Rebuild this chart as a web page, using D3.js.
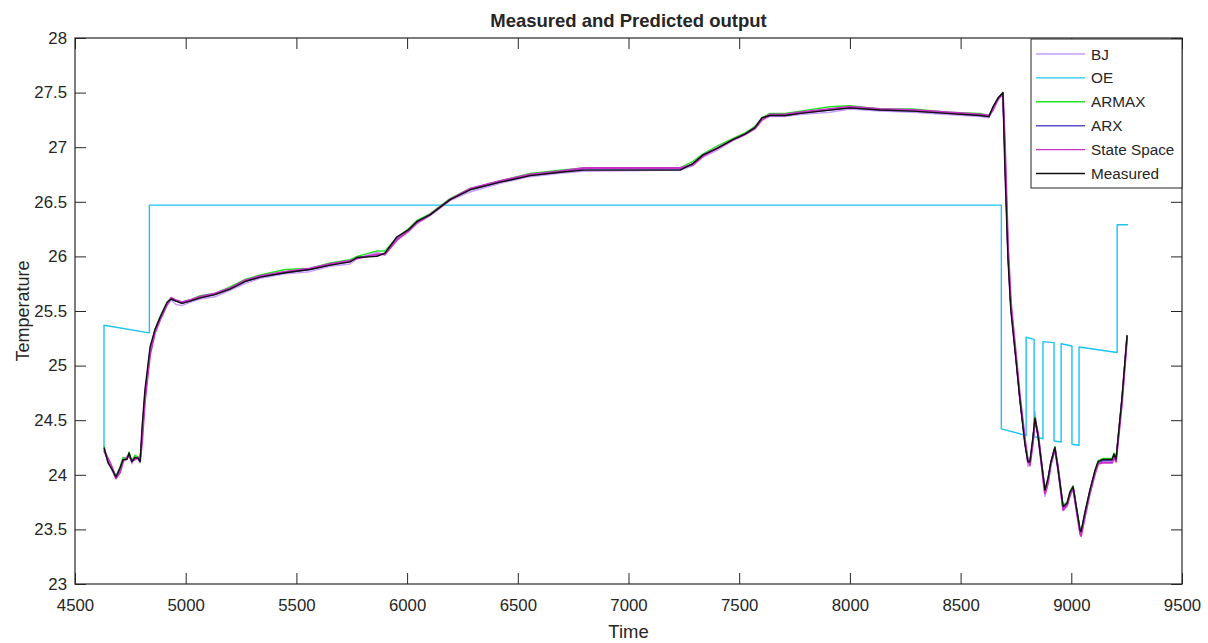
<!DOCTYPE html>
<html>
<head>
<meta charset="utf-8">
<script src="https://cdn.jsdelivr.net/npm/d3@7"></script>
<style>
  body { margin: 0; background: #fff; }
  svg text { font-family: "Liberation Sans", Arial, sans-serif; fill: #262626; }
</style>
</head>
<body>
<div id="chart"></div>
<script>
// sample times shared by measured and the four close-fitting models
var time = [4631,4649,4667,4685,4703,4717,4735,4744,4757,4771,4785,4794,4803,4816,4839,4861,4884,4916,4934,4956,
  4983,5019,5065,5132,5200,5268,5336,5449,5561,5652,5742,5774,5864,5900,5954,6004,6045,6103,6194,6284,
  6420,6555,6690,6799,7233,7291,7337,7400,7472,7526,7571,7603,7639,7707,7775,7910,8000,8136,8285,8439,
  8588,8628,8646,8669,8691,8700,8714,8727,8750,8768,8791,8804,8813,8827,8836,8850,8881,8895,8908,8926,
  8940,8963,8981,8994,9008,9040,9044,9062,9084,9107,9121,9143,9184,9193,9202,9229,9252];

var measured = [24.25,24.11,24.05,23.98,24.06,24.14,24.14,24.20,24.12,24.16,24.15,24.12,24.44,24.78,25.17,25.33,25.44,25.58,25.61,25.59,
  25.57,25.59,25.62,25.65,25.70,25.77,25.81,25.85,25.88,25.92,25.95,25.99,26.00,26.03,26.18,26.24,26.32,26.38,26.52,26.61,
  26.68,26.74,26.77,26.79,26.79,26.85,26.93,26.99,27.07,27.12,27.18,27.27,27.29,27.29,27.31,27.34,27.36,27.34,27.33,27.31,
  27.29,27.28,27.37,27.45,27.50,26.80,25.97,25.50,25.05,24.68,24.27,24.12,24.12,24.35,24.52,24.35,23.86,23.97,24.12,24.25,
  24.05,23.71,23.74,23.84,23.89,23.49,23.48,23.66,23.86,24.04,24.12,24.14,24.14,24.19,24.14,24.71,25.28];

var stateSpace = [24.22,24.15,24.07,23.97,24.02,24.12,24.16,24.17,24.13,24.14,24.16,24.13,24.30,24.68,25.10,25.30,25.42,25.56,25.62,25.60,
  25.58,25.60,25.63,25.66,25.71,25.78,25.82,25.86,25.89,25.93,25.96,25.98,26.02,26.02,26.15,26.23,26.31,26.38,26.52,26.62,
  26.69,26.75,26.78,26.81,26.81,26.84,26.92,26.99,27.07,27.12,27.17,27.25,27.30,27.30,27.32,27.35,27.37,27.35,27.34,27.32,
  27.30,27.29,27.34,27.44,27.49,27.05,26.10,25.58,25.10,24.72,24.32,24.13,24.09,24.30,24.50,24.38,23.83,23.93,24.10,24.24,
  24.07,23.68,23.72,23.82,23.88,23.46,23.44,23.62,23.83,24.01,24.10,24.11,24.11,24.16,24.12,24.66,25.26];

var arx = [24.24,24.12,24.06,23.98,24.05,24.13,24.15,24.19,24.12,24.15,24.15,24.12,24.38,24.74,25.14,25.32,25.43,25.57,25.61,25.59,
  25.57,25.59,25.62,25.65,25.70,25.77,25.81,25.85,25.88,25.92,25.95,25.99,26.01,26.03,26.17,26.24,26.32,26.38,26.52,26.61,
  26.68,26.74,26.77,26.80,26.80,26.85,26.93,26.99,27.07,27.12,27.18,27.26,27.29,27.29,27.31,27.34,27.36,27.34,27.33,27.31,
  27.29,27.28,27.36,27.45,27.50,26.90,26.02,25.53,25.07,24.69,24.29,24.12,24.11,24.33,24.51,24.36,23.85,23.96,24.11,24.25,
  24.06,23.70,23.73,23.83,23.89,23.48,23.47,23.65,23.85,24.03,24.11,24.13,24.13,24.18,24.14,24.69,25.27];

var armax = [24.26,24.13,24.06,23.99,24.07,24.16,24.15,24.21,24.13,24.18,24.16,24.13,24.36,24.72,25.13,25.33,25.45,25.58,25.62,25.60,
  25.58,25.60,25.64,25.66,25.72,25.79,25.83,25.88,25.89,25.94,25.97,26.00,26.05,26.05,26.17,26.25,26.33,26.39,26.53,26.62,
  26.69,26.76,26.79,26.81,26.81,26.87,26.94,27.01,27.08,27.13,27.19,27.27,27.31,27.31,27.33,27.37,27.38,27.35,27.35,27.32,
  27.31,27.29,27.36,27.45,27.50,26.95,26.05,25.55,25.08,24.70,24.30,24.14,24.12,24.33,24.53,24.37,23.87,23.97,24.12,24.26,
  24.07,23.72,23.75,23.85,23.90,23.50,23.47,23.66,23.86,24.04,24.13,24.15,24.15,24.20,24.15,24.70,25.27];

var bj = [24.23,24.14,24.04,23.96,24.03,24.12,24.17,24.18,24.10,24.16,24.14,24.11,24.33,24.70,25.11,25.30,25.41,25.55,25.60,25.56,
  25.55,25.58,25.61,25.63,25.69,25.75,25.80,25.84,25.86,25.91,25.93,25.98,26.04,26.01,26.16,26.22,26.30,26.37,26.51,26.59,
  26.67,26.73,26.76,26.78,26.79,26.83,26.91,26.97,27.06,27.11,27.17,27.25,27.28,27.28,27.30,27.32,27.35,27.33,27.32,27.30,
  27.28,27.27,27.35,27.43,27.49,26.98,26.08,25.56,25.09,24.71,24.31,24.08,24.08,24.30,24.58,24.33,23.80,23.92,24.09,24.22,
  24.03,23.67,23.71,23.80,23.87,23.46,23.45,23.63,23.83,24.01,24.10,24.12,24.12,24.17,24.13,24.67,25.25];

// OE model has its own step-shaped trace
var oeTime = [4631,4631,4836,4836,8684,8684,8796,8796,8832,8832,8872,8872,8922,8922,8954,8954,9003,9003,9035,9035,9207,9207,9256];
var oeTemp = [24.25,25.37,25.30,26.47,26.47,24.42,24.36,25.26,25.24,24.35,24.33,25.22,25.21,24.31,24.30,25.20,25.18,24.28,24.27,25.17,25.12,26.29,26.29];

var xTicks = [4500,5000,5500,6000,6500,7000,7500,8000,8500,9000,9500];
var yTicks = [23,23.5,24,24.5,25,25.5,26,26.5,27,27.5,28];

var seriesNames = ["BJ","OE","ARMAX","ARX","State Space","Measured"];
var seriesColors = ["#c99cff","#1cc3f4","#22e622","#5a4fc4","#c832c8","#111111"];
var seriesWidths = [1.4,1.4,1.4,1.4,2,1.4];

var margin = {top: 38, right: 26, bottom: 59, left: 75},
    width = 1208 - margin.left - margin.right,
    height = 643 - margin.top - margin.bottom;

var svg = d3.select("#chart")
    .append("svg")
    .attr("width", 1208)
    .attr("height", 643)
    .append("g")
    .attr("transform", "translate(" + margin.left + "," + margin.top + ")");

var x = d3.scaleLinear().domain([4500, 9500]).range([0, width]);
var y = d3.scaleLinear().domain([23, 28]).range([height, 0]);

svg.append("clipPath").attr("id", "clip")
    .append("rect").attr("width", width).attr("height", height);

// lines
var line = d3.line()
    .x(function (d) { return x(d[0]); })
    .y(function (d) { return y(d[1]); });

var traces = [
  d3.zip(time, bj),
  d3.zip(oeTime, oeTemp),
  d3.zip(time, armax),
  d3.zip(time, arx),
  d3.zip(time, stateSpace),
  d3.zip(time, measured)
];

var plot = svg.append("g").attr("clip-path", "url(#clip)");
traces.forEach(function (tr, i) {
  plot.append("path")
      .datum(tr)
      .attr("fill", "none")
      .attr("stroke", seriesColors[i])
      .attr("stroke-width", seriesWidths[i])
      .attr("stroke-linejoin", "round")
      .attr("d", line);
});

// axes, ticks inward on all four sides (box on)
var tickLen = 11;
function styleAxis(g) {
  g.select(".domain").remove();
  g.selectAll(".tick line").attr("stroke", "#262626");
  g.selectAll(".tick text").attr("font-size", "16.8px").attr("fill", "#262626")
      .attr("font-family", "'Liberation Sans', Arial, sans-serif");
}

svg.append("g")
    .attr("transform", "translate(0," + height + ")")
    .call(d3.axisBottom(x).tickValues(xTicks).tickFormat(d3.format("d")).tickSizeInner(-tickLen).tickSizeOuter(0).tickPadding(15))
    .call(styleAxis);
svg.append("g")
    .call(d3.axisTop(x).tickValues(xTicks).tickFormat("").tickSizeInner(-tickLen).tickSizeOuter(0))
    .call(styleAxis);
svg.append("g")
    .call(d3.axisLeft(y).tickValues(yTicks).tickFormat(d3.format("")).tickSizeInner(-tickLen).tickSizeOuter(0).tickPadding(8))
    .call(styleAxis);
svg.append("g")
    .attr("transform", "translate(" + width + ",0)")
    .call(d3.axisRight(y).tickValues(yTicks).tickFormat("").tickSizeInner(-tickLen).tickSizeOuter(0))
    .call(styleAxis);

svg.append("rect")
    .attr("width", width)
    .attr("height", height)
    .attr("fill", "none")
    .attr("stroke", "#262626")
    .attr("stroke-width", 1.2);

// titles
svg.append("text")
    .attr("x", width / 2)
    .attr("y", -11)
    .attr("text-anchor", "middle")
    .attr("font-size", "18.5px")
    .attr("font-weight", "bold")
    .attr("fill", "#000")
    .text("Measured and Predicted output");

svg.append("text")
    .attr("x", width / 2)
    .attr("y", height + 54)
    .attr("text-anchor", "middle")
    .attr("font-size", "18.5px")
    .text("Time");

svg.append("text")
    .attr("transform", "rotate(-90)")
    .attr("x", -(height / 2) + 0)
    .attr("y", -margin.left + 29)
    .attr("text-anchor", "middle")
    .attr("font-size", "18px")
    .text("Temperature");

// legend
var lg = svg.append("g").attr("transform", "translate(" + (1031 - margin.left) + "," + (39 - margin.top) + ")");
lg.append("rect")
    .attr("width", 151)
    .attr("height", 149)
    .attr("fill", "#fff")
    .attr("stroke", "#262626")
    .attr("stroke-width", 1);
seriesNames.forEach(function (name, i) {
  var yy = 15 + i * 23.9;
  lg.append("line")
      .attr("x1", 5).attr("x2", 54)
      .attr("y1", yy).attr("y2", yy)
      .attr("stroke", seriesColors[i])
      .attr("stroke-width", 1.4);
  lg.append("text")
      .attr("x", 60)
      .attr("y", yy + 5.5)
      .attr("font-size", "15.3px")
      .text(name);
});
</script>
</body>
</html>
